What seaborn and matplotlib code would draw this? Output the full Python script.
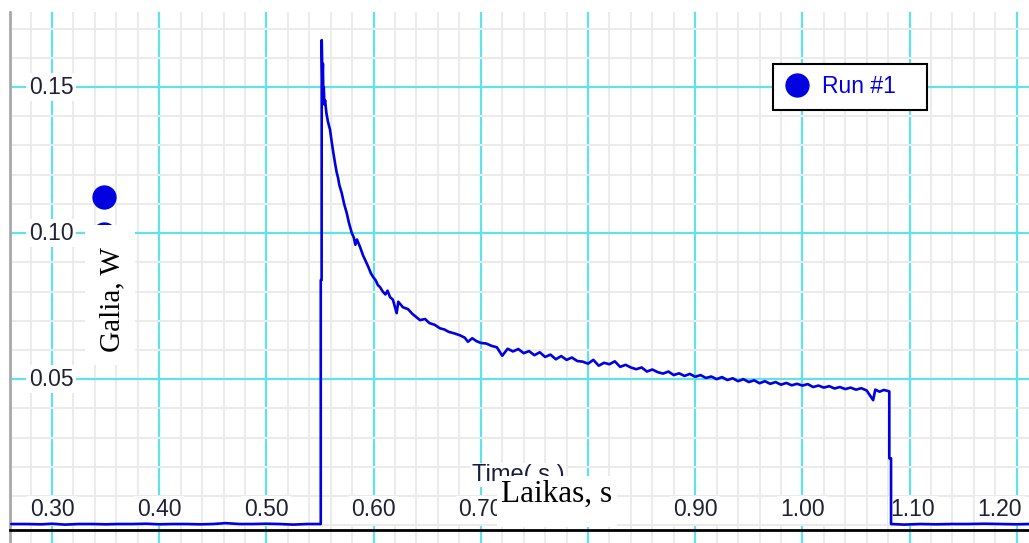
"""Galia vs laikas (Logger Pro style run)"""
import matplotlib
matplotlib.use('Agg')
import pandas as pd
import matplotlib.pyplot as plt
import seaborn as sns
from matplotlib.lines import Line2D
from matplotlib.patches import Rectangle
from matplotlib.ticker import MultipleLocator

# --- data ---
# baseline before the pulse
t_pre = [0.262, 0.275, 0.290, 0.300, 0.312, 0.325, 0.338, 0.350, 0.362, 0.375, 0.388, 0.400,
         0.412, 0.425, 0.438, 0.450, 0.462, 0.475, 0.488, 0.500, 0.512, 0.525, 0.538, 0.5507]
p_pre = [0.0004, 0.0004, 0.0003, 0.0005, 0.0002, 0.0004, 0.0004, 0.0003, 0.0004, 0.0004, 0.0005, 0.0003,
         0.0004, 0.0004, 0.0003, 0.0004, 0.0007, 0.0004, 0.0004, 0.0005, 0.0004, 0.0002, 0.0004, 0.0004]

# rise, peak and fast decay
t_peak = [0.5507, 0.5515, 0.5516, 0.5522, 0.5527, 0.5531, 0.5535, 0.5541, 0.5547, 0.5560, 0.5575, 0.5593,
          0.5610, 0.5624, 0.5640, 0.5656, 0.5668, 0.5680, 0.5702, 0.5725, 0.5749, 0.5770, 0.5796, 0.5815,
          0.5830, 0.5845, 0.5873, 0.5900, 0.5925, 0.5951, 0.5975, 0.5995, 0.6020, 0.6040, 0.6060, 0.6085,
          0.6110, 0.6130, 0.6153, 0.6180, 0.6215, 0.6230, 0.6274, 0.6320, 0.6360, 0.6400, 0.6433, 0.6480,
          0.6520, 0.6570, 0.6619, 0.6660, 0.6700, 0.6750, 0.6806, 0.6850, 0.6880, 0.6920, 0.6960, 0.7000]
p_peak = [0.0839, 0.0839, 0.1661, 0.1520, 0.1580, 0.1470, 0.1500, 0.1440, 0.1455, 0.1410, 0.1380, 0.1355,
          0.1310, 0.1276, 0.1240, 0.1207, 0.1190, 0.1165, 0.1138, 0.1100, 0.1069, 0.1035, 0.1001, 0.0985,
          0.0960, 0.0978, 0.0953, 0.0925, 0.0905, 0.0884, 0.0862, 0.0850, 0.0838, 0.0822, 0.0815, 0.0800,
          0.0790, 0.0803, 0.0781, 0.0772, 0.0726, 0.0765, 0.0746, 0.0740, 0.0724, 0.0712, 0.0702, 0.0706,
          0.0692, 0.0686, 0.0674, 0.0670, 0.0662, 0.0657, 0.0650, 0.0642, 0.0628, 0.0640, 0.0630, 0.0624]

# slow tail up to switch-off
t_tail = [0.705, 0.710, 0.715, 0.720, 0.725, 0.730, 0.735, 0.740, 0.745, 0.750, 0.755, 0.760,
          0.765, 0.770, 0.775, 0.780, 0.785, 0.790, 0.795, 0.800, 0.805, 0.810, 0.815, 0.820,
          0.825, 0.830, 0.835, 0.840, 0.845, 0.850, 0.855, 0.860, 0.865, 0.870, 0.875, 0.880,
          0.885, 0.890, 0.895, 0.900, 0.905, 0.910, 0.915, 0.920, 0.925, 0.930, 0.935, 0.940,
          0.945, 0.950, 0.955, 0.960, 0.965, 0.970, 0.975, 0.980, 0.985, 0.990, 0.995, 1.000,
          1.005, 1.010, 1.015, 1.020, 1.025, 1.030, 1.035, 1.040, 1.045, 1.050, 1.055, 1.060,
          1.066, 1.068, 1.072, 1.076, 1.0811, 1.0811, 1.0827]
p_tail = [0.0622, 0.0614, 0.0609, 0.0580, 0.0604, 0.0595, 0.0603, 0.0589, 0.0596, 0.0582, 0.0592, 0.0576,
          0.0584, 0.0568, 0.0579, 0.0566, 0.0574, 0.0562, 0.0560, 0.0553, 0.0566, 0.0546, 0.0556, 0.0551,
          0.0561, 0.0542, 0.0549, 0.0540, 0.0534, 0.0540, 0.0526, 0.0533, 0.0524, 0.0519, 0.0526, 0.0514,
          0.0520, 0.0511, 0.0518, 0.0508, 0.0514, 0.0504, 0.0509, 0.0500, 0.0507, 0.0497, 0.0503, 0.0493,
          0.0500, 0.0490, 0.0496, 0.0486, 0.0493, 0.0484, 0.0490, 0.0481, 0.0487, 0.0479, 0.0484, 0.0478,
          0.0483, 0.0473, 0.0478, 0.0471, 0.0476, 0.0468, 0.0473, 0.0466, 0.0471, 0.0464, 0.0469, 0.0461,
          0.0428, 0.0464, 0.0457, 0.0463, 0.0458, 0.0229, 0.0229]

# baseline after switch-off
t_post = [1.0827, 1.095, 1.110, 1.125, 1.140, 1.155, 1.170, 1.185, 1.200, 1.212]
p_post = [0.0004, 0.0002, 0.0004, 0.0003, 0.0004, 0.0004, 0.0005, 0.0004, 0.0003, 0.0004]

x_ticks = [0.30, 0.40, 0.50, 0.60, 0.70, 0.80, 0.90, 1.00, 1.10, 1.20]
y_ticks = [0.05, 0.10, 0.15]
run_name = 'Run #1'

df = pd.DataFrame({'time': t_pre + t_peak + t_tail + t_post,
                   'power': p_pre + p_peak + p_tail + p_post})

BLUE = '#0000e0'
CYAN = '#5fe2ec'
TXT = '#202036'

sns.set_style('white')
plt.rcParams['font.family'] = ['Liberation Sans', 'DejaVu Sans']

fig = plt.figure(figsize=(10.29, 5.43), dpi=100)
ax = fig.add_axes([10 / 1029, 0, 1019 / 1029, 531 / 543])
ax.set_xlim(0.2608, 1.2114)
ax.set_ylim(-0.0061, 0.1757)

# grid: cyan majors, light grey minors
ax.set_xticks(x_ticks)
ax.set_yticks(y_ticks)
ax.xaxis.set_minor_locator(MultipleLocator(0.02))
ax.yaxis.set_minor_locator(MultipleLocator(0.01))
ax.grid(which='minor', color='#ebebeb', lw=1.5)
ax.grid(which='major', color=CYAN, lw=1.6)
ax.set_axisbelow(True)

for s in ['top', 'right']:
    ax.spines[s].set_visible(False)
ax.spines['left'].set_color('#a8a8a8')
ax.spines['left'].set_linewidth(2)
ax.spines['bottom'].set_position(('data', -0.0015))
ax.spines['bottom'].set_color('black')
ax.spines['bottom'].set_linewidth(2)
ax.tick_params(axis='x', which='both', direction='in', length=4, color='#555555',
               labelbottom=False)
ax.tick_params(axis='y', which='both', direction='in', length=7, color='#b0b0b0',
               labelleft=False)

# the run itself (drawn over the tick label boxes, like the original)
sns.lineplot(data=df, x='time', y='power', estimator=None, sort=False, color=BLUE,
             lw=1.9, legend=False, ax=ax, zorder=5.5)
ax.set_xlabel('')
ax.set_ylabel('')

# tick labels sit inside the plot on white boxes (last one kept inside the frame)
for v in x_ticks:
    ax.text(min(v, 1.184) + (0.003 if v == 1.10 else 0), 0.0052, f'{v:.2f}', ha='center',
            va='center', fontsize=16.5, color=TXT,
            bbox=dict(fc='white', ec='none', pad=2), zorder=5)
for v in y_ticks:
    ax.text(0.299, v, f'{v:.2f}', ha='center', va='center', fontsize=16.5, color=TXT,
            bbox=dict(fc='white', ec='none', pad=2), zorder=5)

# axis titles (the serif ones are pasted over the original ones)
ax.text(0.7347, 0.0172, 'Time( s )', ha='center', va='center', fontsize=17, color='#1c1c40',
        bbox=dict(fc='white', ec='none', pad=1), zorder=5)
ax.add_patch(Rectangle((0.7151, -0.0007), 0.112, 0.0175, fc='white', ec='none', zorder=6))
ax.text(0.7711, 0.0107, 'Laikas, s', ha='center', va='center', fontsize=22.5,
        family='Liberation Serif', color='black', zorder=7)

ax.plot([0.0918], [0.6525], 'o', ms=16.5, color=BLUE, transform=ax.transAxes, zorder=8)
ax.plot([0.0918], [0.5810], 'o', ms=16.5, color=BLUE, transform=ax.transAxes, zorder=6)
ax.add_patch(Rectangle((0.0736, 0.3352), 0.0491, 0.2637, transform=ax.transAxes,
                       fc='white', ec='none', zorder=7))
ax.text(0.356, 0.0771, 'Galia, W', rotation=90, ha='center', va='center', fontsize=21,
        family='Liberation Serif', color='black', zorder=7.5)

handle = Line2D([], [], marker='o', ls='none', color=BLUE, ms=16.5)
leg = ax.legend([handle], [run_name], loc='upper left', mode='expand',
                bbox_to_anchor=(773 / 1029, 431 / 543, 154 / 1029, 48 / 543),
                bbox_transform=fig.transFigure, borderaxespad=0, fancybox=False,
                framealpha=1, edgecolor='black', fontsize=16.5, labelcolor=BLUE,
                borderpad=0.5, handlelength=1.1, handletextpad=0.55)
leg.get_frame().set_linewidth(1.5)
leg.set_zorder(8)

fig.savefig('out.png', dpi=100)
